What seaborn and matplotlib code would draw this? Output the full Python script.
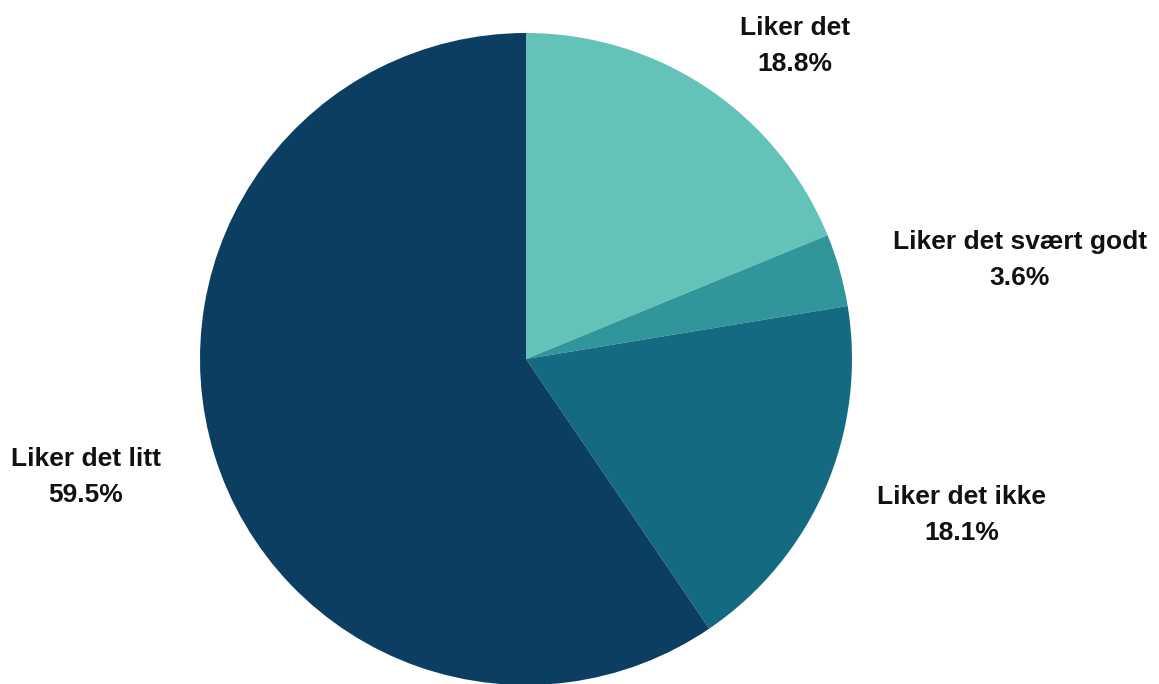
import matplotlib
matplotlib.use("Agg")
import matplotlib.pyplot as plt
import seaborn as sns

# Survey answers, clockwise from 12 o'clock
categories = ["Liker det", "Liker det svært godt", "Liker det ikke", "Liker det litt"]
shares = [18.8, 3.6, 18.1, 59.5]
colors = ["#63C3B8", "#31969B", "#136A81", "#0C3E62"]

# Label anchor points, in units of the pie radius (centre of the two-line text)
label_pos = [(0.825, 0.961), (1.515, 0.304), (1.337, -0.478), (-1.35, -0.361)]

sns.set_theme(style="white")
plt.rcParams["font.family"] = ["Liberation Sans", "DejaVu Sans"]

fig = plt.figure(figsize=(11.59, 6.84), dpi=100)
ax = fig.add_axes([200 / 1159, -1 / 684, 652 / 1159, 652 / 684])

ax.pie(shares, colors=colors, startangle=90, counterclock=False,
       wedgeprops=dict(linewidth=0))
ax.set_xlim(-1, 1)
ax.set_ylim(-1, 1)
ax.set_aspect("equal")
ax.axis("off")

for name, val, (x, y) in zip(categories, shares, label_pos):
    ax.text(x, y, f"{name}\n{val:.1f}%", ha="center", va="center",
            fontsize=19, fontweight="bold", color="#111111",
            linespacing=1.62, clip_on=False)

fig.savefig("out.png", dpi=100, facecolor="white")
